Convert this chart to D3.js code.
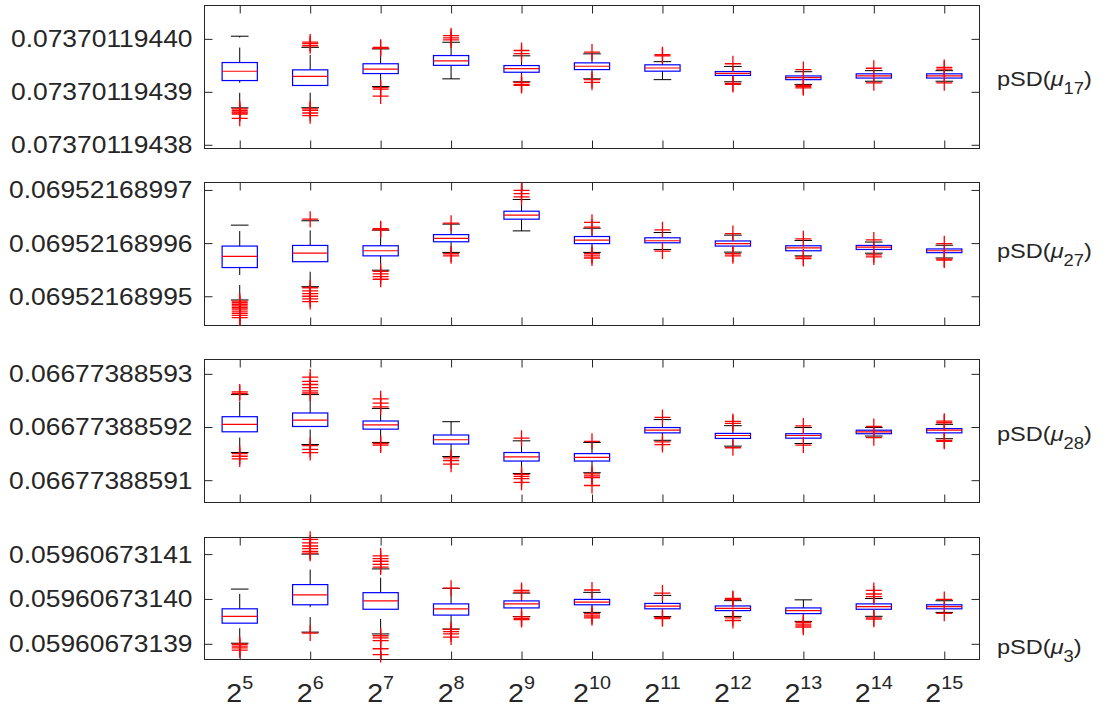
<!DOCTYPE html>
<html><head><meta charset="utf-8">
<script src="https://cdn.jsdelivr.net/npm/d3@7"></script>
<style>
body{margin:0;background:#fff}
text{font-family:"Liberation Sans",Arial,sans-serif;fill:#262626}
</style>
</head><body><svg id="c" width="1117" height="710"></svg>
<script>
const exponents = [5,6,7,8,9,10,11,12,13,14,15];
const panelSubscripts = ["17","27","28","3"];

// ---- panel 1: pSD(mu_17)
const p1Ticks = [0.07370119438, 0.07370119439, 0.07370119440];
const p1Limits = [0.0737011943793, 0.0737011944063];
const p1Low = [0.07370119438698, 0.0737011943870, 0.0737011943910, 0.07370119439245, 0.0737011943919, 0.07370119439245, 0.0737011943923, 0.0737011943919, 0.0737011943914, 0.0737011943920, 0.0737011943920];
const p1Q1 = [0.07370119439213, 0.0737011943912, 0.07370119439345, 0.0737011943950, 0.0737011943937, 0.0737011943942, 0.0737011943939, 0.0737011943931, 0.0737011943923, 0.0737011943926, 0.0737011943926];
const p1Median = [0.07370119439389, 0.0737011943929, 0.0737011943943, 0.07370119439585, 0.0737011943944, 0.07370119439483, 0.0737011943945, 0.0737011943935, 0.0737011943927, 0.0737011943930, 0.0737011943930];
const p1Q3 = [0.07370119439553, 0.07370119439415, 0.0737011943953, 0.07370119439685, 0.07370119439496, 0.07370119439547, 0.0737011943951, 0.07370119439383, 0.0737011943930, 0.0737011943934, 0.0737011943934];
const p1High = [0.0737011944005, 0.0737011943984, 0.0737011943981, 0.07370119439936, 0.0737011943968, 0.07370119439717, 0.0737011943957, 0.0737011943948, 0.0737011943938, 0.0737011943940, 0.0737011943940];
const p1Outliers = [
  [0.0737011943868, 0.0737011943865, 0.0737011943862, 0.0737011943860, 0.0737011943858, 0.0737011943850],
  [0.0737011943994, 0.0737011943991, 0.0737011943987, 0.0737011943868, 0.0737011943865, 0.0737011943860, 0.0737011943855],
  [0.0737011943984, 0.0737011943982, 0.0737011943908, 0.0737011943905, 0.0737011943892],
  [0.0737011944006, 0.0737011944002, 0.0737011943998],
  [0.0737011943978, 0.0737011943972, 0.0737011943918, 0.0737011943914, 0.0737011943912],
  [0.0737011943975, 0.0737011943923, 0.0737011943918],
  [0.0737011943970, 0.0737011943968],
  [0.0737011943953, 0.0737011943916, 0.0737011943914],
  [0.0737011943942, 0.0737011943912, 0.0737011943910, 0.07370119439075],
  [0.07370119439445, 0.0737011943917],
  [0.0737011943946, 0.0737011943943, 0.0737011943917]
];

// ---- panel 2: pSD(mu_27)
const p2Ticks = [0.06952168995, 0.06952168996, 0.06952168997];
const p2Limits = [0.0695216899445, 0.0695216899714];
const p2Low = [0.0695216899493, 0.0695216899518, 0.0695216899549, 0.06952168995825, 0.0695216899623, 0.06952168995825, 0.0695216899588, 0.0695216899583, 0.0695216899576, 0.0695216899581, 0.0695216899572];
const p2Q1 = [0.0695216899554, 0.0695216899565, 0.0695216899576, 0.06952168996025, 0.0695216899645, 0.0695216899599, 0.06952168996006, 0.06952168995944, 0.06952168995856, 0.0695216899588, 0.0695216899582];
const p2Median = [0.0695216899575, 0.0695216899581, 0.06952168995856, 0.0695216899609, 0.06952168996525, 0.06952168996056, 0.06952168996044, 0.0695216899599, 0.0695216899591, 0.06952168995925, 0.06952168995856];
const p2Q3 = [0.06952168995944, 0.06952168995956, 0.0695216899595, 0.0695216899616, 0.0695216899660, 0.06952168996124, 0.0695216899610, 0.0695216899604, 0.0695216899595, 0.06952168995956, 0.0695216899589];
const p2High = [0.06952168996338, 0.0695216899642, 0.06952168996244, 0.06952168996357, 0.0695216899682, 0.0695216899628, 0.0695216899620, 0.0695216899615, 0.0695216899605, 0.0695216899602, 0.0695216899596];
const p2Outliers = [
  [0.0695216899491, 0.0695216899488, 0.0695216899485, 0.0695216899482, 0.0695216899479, 0.0695216899476, 0.0695216899472, 0.0695216899468, 0.0695216899464, 0.0695216899460],
  [0.0695216899645, 0.0695216899516, 0.0695216899510, 0.0695216899505, 0.0695216899500, 0.0695216899495, 0.0695216899490],
  [0.0695216899627, 0.0695216899625, 0.0695216899547, 0.0695216899542, 0.0695216899537, 0.0695216899532],
  [0.06952168996375, 0.0695216899580, 0.0695216899576],
  [0.0695216899699, 0.0695216899693, 0.0695216899687],
  [0.0695216899639, 0.0695216899630, 0.0695216899580, 0.0695216899576, 0.0695216899572],
  [0.0695216899625, 0.0695216899585],
  [0.0695216899618, 0.0695216899580, 0.0695216899576],
  [0.0695216899608, 0.0695216899574, 0.0695216899571],
  [0.0695216899606, 0.0695216899578, 0.0695216899574],
  [0.0695216899599, 0.0695216899570, 0.0695216899568]
];

// ---- panel 3: pSD(mu_28)
const p3Ticks = [0.06677388591, 0.06677388592, 0.06677388593];
const p3Limits = [0.0667738859058, 0.0667738859327];
const p3Low = [0.0667738859152, 0.0667738859167, 0.0667738859171, 0.06677388591445, 0.06677388591125, 0.0667738859114, 0.0667738859175, 0.0667738859164, 0.0667738859169, 0.0667738859183, 0.0667738859178];
const p3Q1 = [0.0667738859191, 0.0667738859201, 0.0667738859196, 0.0667738859168, 0.0667738859136, 0.0667738859136, 0.0667738859189, 0.06677388591785, 0.0667738859179, 0.06677388591874, 0.0667738859189];
const p3Median = [0.0667738859205, 0.0667738859213, 0.0667738859204, 0.0667738859176, 0.0667738859144, 0.0667738859143, 0.0667738859194, 0.0667738859184, 0.0667738859184, 0.0667738859191, 0.0667738859194];
const p3Q3 = [0.06677388592194, 0.06677388592264, 0.06677388592113, 0.0667738859185, 0.0667738859152, 0.0667738859150, 0.0667738859199, 0.0667738859188, 0.06677388591874, 0.0667738859194, 0.0667738859197];
const p3High = [0.0667738859261, 0.0667738859261, 0.0667738859235, 0.0667738859210, 0.0667738859174, 0.0667738859171, 0.0667738859214, 0.06677388592025, 0.0667738859199, 0.0667738859199, 0.0667738859205];
const p3Outliers = [
  [0.0667738859266, 0.0667738859263, 0.0667738859150, 0.0667738859145, 0.0667738859140],
  [0.0667738859294, 0.0667738859286, 0.0667738859280, 0.0667738859274, 0.0667738859268, 0.0667738859264, 0.0667738859165, 0.0667738859158, 0.0667738859152],
  [0.0667738859253, 0.0667738859245, 0.0667738859238, 0.0667738859169, 0.0667738859166],
  [0.0667738859142, 0.0667738859137, 0.0667738859130],
  [0.0667738859179, 0.0667738859111, 0.0667738859107, 0.0667738859103, 0.0667738859096],
  [0.0667738859173, 0.0667738859112, 0.0667738859108, 0.0667738859105, 0.0667738859090],
  [0.0667738859218, 0.0667738859172, 0.0667738859167],
  [0.06677388592105, 0.0667738859207, 0.0667738859161],
  [0.0667738859202, 0.0667738859166],
  [0.0667738859201, 0.0667738859180],
  [0.0667738859211, 0.0667738859208, 0.0667738859175, 0.0667738859173]
];

// ---- panel 4: pSD(mu_3)
const p4Ticks = [0.05960673139, 0.05960673140, 0.05960673141];
const p4Limits = [0.0596067313865, 0.0596067314137];
const p4Low = [0.05960673139013, 0.0596067313926, 0.0596067313922, 0.0596067313933, 0.05960673139607, 0.0596067313970, 0.05960673139607, 0.0596067313961, 0.0596067313950, 0.05960673139613, 0.0596067313970];
const p4Q1 = [0.0596067313946, 0.0596067313987, 0.0596067313977, 0.0596067313964, 0.0596067313980, 0.0596067313987, 0.0596067313978, 0.0596067313974, 0.05960673139673, 0.0596067313977, 0.0596067313978];
const p4Median = [0.0596067313961, 0.0596067314009, 0.05960673139956, 0.0596067313978, 0.0596067313989, 0.0596067313993, 0.0596067313984, 0.0596067313979, 0.0596067313974, 0.0596067313983, 0.0596067313983];
const p4Q3 = [0.0596067313978, 0.0596067314032, 0.0596067314014, 0.0596067313989, 0.05960673139956, 0.0596067313999, 0.0596067313990, 0.05960673139844, 0.0596067313980, 0.0596067313989, 0.0596067313987];
const p4High = [0.0596067314022, 0.0596067314100, 0.0596067314067, 0.05960673140236, 0.0596067314013, 0.05960673140147, 0.0596067314008, 0.05960673139962, 0.0596067313998, 0.0596067314001, 0.0596067313996];
const p4Outliers = [
  [0.0596067313899, 0.0596067313895, 0.0596067313891, 0.0596067313886],
  [0.0596067314133, 0.0596067314125, 0.0596067314118, 0.0596067314112, 0.0596067314106, 0.0596067314102, 0.0596067313924],
  [0.0596067314096, 0.0596067314090, 0.0596067314084, 0.0596067314077, 0.0596067314071, 0.0596067313918, 0.0596067313913, 0.0596067313907, 0.0596067313889, 0.0596067313876],
  [0.0596067314024, 0.0596067313932, 0.0596067313927, 0.0596067313922, 0.0596067313915],
  [0.0596067314019, 0.0596067314015, 0.0596067313960, 0.0596067313956, 0.0596067313954],
  [0.0596067314020, 0.0596067313967, 0.0596067313962, 0.0596067313958],
  [0.0596067314013, 0.0596067313959, 0.0596067313956],
  [0.0596067314001, 0.05960673139985, 0.0596067313958, 0.0596067313952],
  [0.0596067313948, 0.0596067313944, 0.0596067313940, 0.0596067313937],
  [0.0596067314019, 0.0596067314011, 0.0596067314005, 0.0596067313958, 0.0596067313955],
  [0.0596067313999, 0.0596067313968]
];

const panels = [
  {ticks:p1Ticks, limits:p1Limits, lo:p1Low, q1:p1Q1, med:p1Median, q3:p1Q3, hi:p1High, out:p1Outliers},
  {ticks:p2Ticks, limits:p2Limits, lo:p2Low, q1:p2Q1, med:p2Median, q3:p2Q3, hi:p2High, out:p2Outliers},
  {ticks:p3Ticks, limits:p3Limits, lo:p3Low, q1:p3Q1, med:p3Median, q3:p3Q3, hi:p3High, out:p3Outliers},
  {ticks:p4Ticks, limits:p4Limits, lo:p4Low, q1:p4Q1, med:p4Median, q3:p4Q3, hi:p4High, out:p4Outliers}
];

// ---- layout
const svg = d3.select("#c");
const left = 204.5, right = 979.5;
const panelTop = [5.5, 182.5, 359.5, 537.5];
const panelBottom = [148.5, 325.5, 502.5, 659.5];
const labelBaseline = [86, 258, 441, 654];
const AX = "#262626";
const SX = 1.1;

const x = d3.scaleLinear().domain([0.5, exponents.length + 0.5]).range([left, right]);
const boxW = (x(1) - x(0)) * 0.5;
const capW = boxW / 2;
const fmt = d3.format(".11f");
const idx = d3.range(exponents.length);

panels.forEach((p, k) => {
  const y = d3.scaleLinear().domain(p.limits).range([panelBottom[k], panelTop[k]]);
  const g = svg.append("g");

  // ticks (inward) on all four sides
  const tickStyle = s => { s.select(".domain").remove(); s.selectAll("line").attr("stroke", AX); s.selectAll("text").remove(); };
  g.append("g").attr("transform", `translate(${left},0)`)
    .call(d3.axisLeft(y).tickValues(p.ticks).tickSizeInner(-8).tickSizeOuter(0)).call(tickStyle);
  g.append("g").attr("transform", `translate(${right},0)`)
    .call(d3.axisRight(y).tickValues(p.ticks).tickSizeInner(-8).tickSizeOuter(0)).call(tickStyle);
  g.append("g").attr("transform", `translate(0,${panelBottom[k]})`)
    .call(d3.axisBottom(x).tickValues(idx.map(i => i + 1)).tickSizeInner(-8).tickSizeOuter(0)).call(tickStyle);
  g.append("g").attr("transform", `translate(0,${panelTop[k]})`)
    .call(d3.axisTop(x).tickValues(idx.map(i => i + 1)).tickSizeInner(-8).tickSizeOuter(0)).call(tickStyle);

  g.append("rect").attr("x", left).attr("y", panelTop[k])
    .attr("width", right - left).attr("height", panelBottom[k] - panelTop[k])
    .attr("fill", "none").attr("stroke", AX).attr("stroke-width", 1);

  // y tick labels
  g.selectAll("text.yl").data(p.ticks).join("text").attr("class", "yl")
    .attr("transform", d => `translate(${left - 12},${y(d)}) scale(${SX},1)`)
    .attr("text-anchor", "end").attr("dy", "0.35em")
    .style("font-size", "24px").text(d => fmt(d));

  // right label
  const t = g.append("text")
    .attr("transform", `translate(997,${labelBaseline[k]}) scale(1.15,1)`)
    .style("font-size", "20.5px");
  t.append("tspan").text("pSD(");
  t.append("tspan").style("font-style", "italic").text("\u03bc");
  t.append("tspan").attr("dy", 8).style("font-size", "16px").text(panelSubscripts[k]);
  t.append("tspan").attr("dy", -8).text(")");

  // whiskers (dashed, drawn bottom-to-top)
  const bx = g.append("g");
  bx.selectAll("line.wu").data(idx).join("line")
    .attr("x1", i => x(i + 1)).attr("x2", i => x(i + 1))
    .attr("y1", i => y(p.q3[i])).attr("y2", i => y(p.hi[i]))
    .attr("stroke", "#000").attr("stroke-width", 1).attr("stroke-dasharray", "15,10");
  bx.selectAll("line.wl").data(idx).join("line")
    .attr("x1", i => x(i + 1)).attr("x2", i => x(i + 1))
    .attr("y1", i => y(p.lo[i])).attr("y2", i => y(p.q1[i]))
    .attr("stroke", "#000").attr("stroke-width", 1).attr("stroke-dasharray", "15,10");
  // caps
  [p.hi, p.lo].forEach(arr => {
    bx.append("g").selectAll("line").data(idx).join("line")
      .attr("x1", i => x(i + 1) - capW / 2).attr("x2", i => x(i + 1) + capW / 2)
      .attr("y1", i => y(arr[i])).attr("y2", i => y(arr[i]))
      .attr("stroke", "#000").attr("stroke-width", 1);
  });
  // boxes
  bx.append("g").selectAll("rect").data(idx).join("rect")
    .attr("x", i => x(i + 1) - boxW / 2).attr("width", boxW)
    .attr("y", i => y(p.q3[i])).attr("height", i => y(p.q1[i]) - y(p.q3[i]))
    .attr("fill", "none").attr("stroke", "#0000ff").attr("stroke-width", 1.2);
  // medians
  bx.append("g").selectAll("line").data(idx).join("line")
    .attr("x1", i => x(i + 1) - boxW / 2).attr("x2", i => x(i + 1) + boxW / 2)
    .attr("y1", i => y(p.med[i])).attr("y2", i => y(p.med[i]))
    .attr("stroke", "#ff0000").attr("stroke-width", 1.2);
  // outliers '+'
  const pts = idx.flatMap(i => p.out[i].map(v => ({i, v})));
  const s = 8;
  bx.append("g").selectAll("path").data(pts).join("path")
    .attr("d", d => {
      const cx = x(d.i + 1), cy = y(d.v);
      return `M${cx - s},${cy}H${cx + s}M${cx},${cy - s}V${cy + s}`;
    })
    .attr("stroke", "#ff0000").attr("stroke-width", 1.3).attr("fill", "none");

  // x labels on the bottom panel
  if (k === panels.length - 1) {
    const xl = g.selectAll("text.xl").data(idx).join("text").attr("class", "xl")
      .attr("transform", i => `translate(${x(i + 1)},702) scale(1.1,1)`)
      .attr("text-anchor", "middle").style("font-size", "26px");
    xl.append("tspan").text("2");
    xl.append("tspan").attr("dy", -13).style("font-size", "18px").text(i => exponents[i]);
  }
});
</script>
</body></html>
